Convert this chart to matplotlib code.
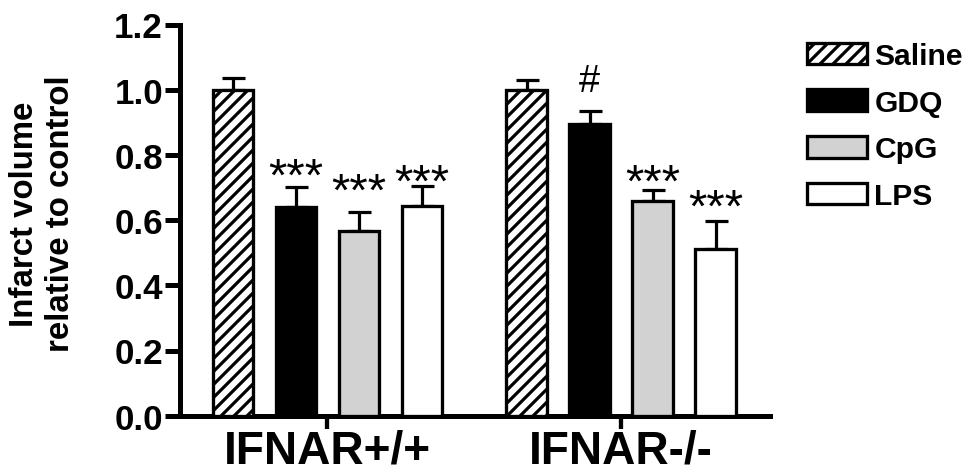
import matplotlib.pyplot as plt
import numpy as np

DPI = 78
W, H = 971, 477


def px(v):
    # pixel length -> points at the figure dpi
    return v * 72.0 / DPI


genotypes = ['IFNAR+/+', 'IFNAR-/-']
treatments = ['Saline', 'GDQ', 'CpG', 'LPS']

saline_mean = [1.000, 1.000]
gdq_mean = [0.641, 0.895]
cpg_mean = [0.566, 0.660]
lps_mean = [0.642, 0.510]

saline_sem = [0.036, 0.031]
gdq_sem = [0.060, 0.041]
cpg_sem = [0.058, 0.031]
lps_sem = [0.064, 0.086]

saline_sig = ['', '']
gdq_sig = ['***', '#']
cpg_sig = ['***', '***']
lps_sig = ['***', '***']

means = [saline_mean, gdq_mean, cpg_mean, lps_mean]
sems = [saline_sem, gdq_sem, cpg_sem, lps_sem]
sigs = [saline_sig, gdq_sig, cpg_sig, lps_sig]
fills = ['white', 'black', '#d2d2d2', 'white']
hatches = ['//', None, None, None]
# extra lift (pixels) of each star label above its error cap
sig_pad = [[0, 0], [-3, 20], [8, -5], [-10, 1]]

plt.rcParams['font.family'] = ['Liberation Sans', 'DejaVu Sans']
plt.rcParams['hatch.linewidth'] = px(3.2)

fig = plt.figure(figsize=(W / DPI, H / DPI), dpi=DPI)
ax = fig.add_axes([180 / W, 60.3 / H, 590 / W, 391.2 / H])

group_x = np.array([0.0, 4.66])
offsets = [-1.5, -0.5, 0.5, 1.5]
bar_w = 0.65

handles = []
for i, name in enumerate(treatments):
    xs = group_x + offsets[i]
    b = ax.bar(xs, means[i], bar_w, color=fills[i], edgecolor='black',
               linewidth=px(3.3), hatch=hatches[i], label=name, zorder=3)
    handles.append(b)
    ax.errorbar(xs, means[i], yerr=[np.zeros(2), sems[i]], fmt='none',
                ecolor='black', elinewidth=px(3.2), capsize=px(11.5),
                capthick=px(3.2), zorder=2)
    for j in range(2):
        s = sigs[i][j]
        if not s:
            continue
        size = px(38) if s == '#' else px(47)
        ax.annotate(s, (xs[j], means[i][j] + sems[i][j]),
                    xytext=(0, sig_pad[i][j]), textcoords='offset pixels',
                    ha='center', va='baseline', fontsize=size, zorder=4)

ax.set_xlim(-2.341, 7.024)
ax.set_ylim(0, 1.2)
ax.set_yticks(np.arange(0, 1.21, 0.2))
ax.set_yticklabels([f'{v:.1f}' for v in np.arange(0, 1.21, 0.2)],
                   fontsize=px(35), fontweight='bold')
ax.set_xticks(group_x)
ax.set_xticklabels(genotypes, fontsize=px(46), fontweight='bold')

for side in ['top', 'right']:
    ax.spines[side].set_visible(False)
for side in ['left', 'bottom']:
    ax.spines[side].set_linewidth(px(5))
ax.tick_params(axis='y', length=px(15), width=px(5), pad=px(2))
ax.tick_params(axis='x', length=px(13), width=px(4.3), pad=0)

fig.text(42.5 / W, 1 - 214 / H, 'Infarct volume\nrelative to control',
         rotation=90, ha='center', va='center', multialignment='center',
         fontsize=px(33), fontweight='bold', linespacing=1.22)

fig.legend(handles=handles, loc='upper left', bbox_to_anchor=(807 / W, 1 - 43 / H),
           frameon=False, borderpad=0, borderaxespad=0,
           handlelength=2.0, handleheight=0.733, handletextpad=0.25,
           labelspacing=0.62, prop={'size': px(30), 'weight': 'bold'})

fig.savefig('out.png', dpi=DPI)
